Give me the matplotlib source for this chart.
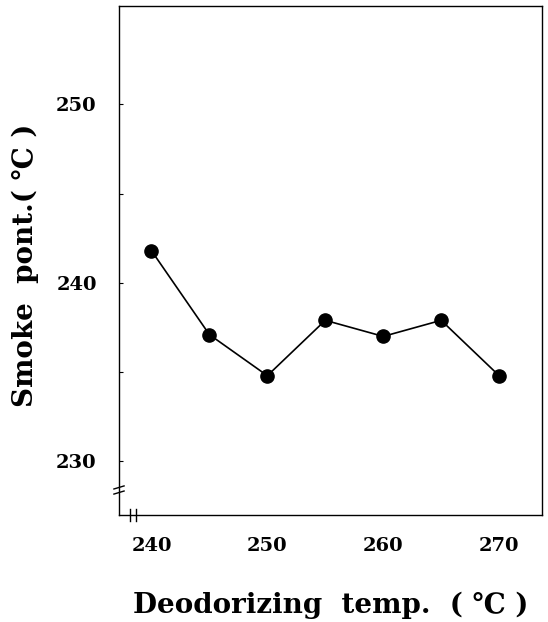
import matplotlib
matplotlib.use('Agg')
import matplotlib.pyplot as plt

# datos
deodor_temp = [240, 245, 250, 255, 260, 265, 270]
smoke_point = [241.8, 237.1, 234.8, 237.9, 237.0, 237.9, 234.8]

x_ticks = [240, 250, 260, 270]
y_ticks = [230, 240, 250]
y_minor = [235, 245]

FONT = ['DejaVu Serif', 'DejaVu Sans']

fig = plt.figure(figsize=(5.48, 6.22), dpi=100)
ax = fig.add_axes([119/548, 1 - 515/622, (542-119)/548, (515-6)/622])

ax.plot(deodor_temp, smoke_point, '-', color='black', lw=1.2,
        marker='o', markersize=9.5, markerfacecolor='black')

ax.set_xlim(237.2, 273.7)
ax.set_ylim(227.0, 255.5)

ax.set_xticks(x_ticks)
ax.set_yticks(y_ticks)
ax.set_yticks(y_minor, minor=True)
ax.tick_params(axis='y', which='both', direction='in', length=3, width=0.8, pad=16)
ax.tick_params(axis='x', which='both', length=0, pad=16)
for lab in ax.get_xticklabels() + ax.get_yticklabels():
    lab.set_fontfamily(FONT)
    lab.set_fontweight('bold')
    lab.set_fontsize(14)

for s in ax.spines.values():
    s.set_linewidth(1.0)

# marcas de corte de eje (en fraccion de ejes)
yb = (515 - 490) / 509
for dy in (-0.005, 0.005):
    ax.plot([-0.012, 0.012], [yb + dy - 0.003, yb + dy + 0.003], color='black', lw=1.0,
            transform=ax.transAxes, clip_on=False)
xb = (133 - 119) / 423
for dx in (-0.006, 0.006):
    ax.plot([xb + dx, xb + dx], [-0.012, 0.012], color='black', lw=1.0,
            transform=ax.transAxes, clip_on=False)

ax.set_ylabel('Smoke  pont.( \u2103 )', fontfamily=FONT, fontweight='bold',
              fontsize=20, labelpad=14)
ax.yaxis.set_label_coords(-0.19, 0.49)
ax.set_xlabel('Deodorizing  temp.  ( \u2103 )', fontfamily=FONT, fontweight='bold',
              fontsize=20, labelpad=26)

fig.savefig('out.png', dpi=100)
